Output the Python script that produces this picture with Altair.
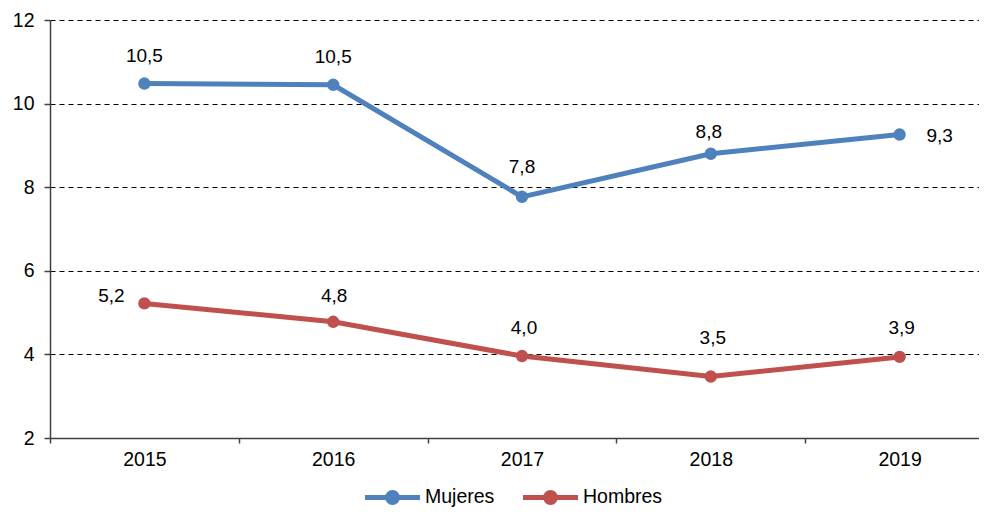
import altair as alt
import pandas as pd

years = ["2015", "2016", "2017", "2018", "2019"]
series_names = ["Mujeres", "Hombres"]
mujeres = [10.48, 10.45, 7.77, 8.80, 9.26]
hombres = [5.22, 4.78, 3.96, 3.47, 3.94]
mujeres_labels = ["10,5", "10,5", "7,8", "8,8", "9,3"]
hombres_labels = ["5,2", "4,8", "4,0", "3,5", "3,9"]
y_ticks = [2, 4, 6, 8, 10, 12]
colors = ["#4F81BD", "#C0504D"]

# label placement (pixel offsets from each point), kept apart from the values
mujeres_offsets = [(0, -28), (0, -28), (0, -30), (-2, -22), (40, 1)]
hombres_offsets = [(-33, -7), (1, -26), (2, -28), (2, -39), (2, -29)]

rows = []
for s, vals, labs in [("Mujeres", mujeres, mujeres_labels), ("Hombres", hombres, hombres_labels)]:
    for y, v, l in zip(years, vals, labs):
        rows.append({"year": y, "series": s, "value": v, "label": l})
df = pd.DataFrame(rows)

FONT = "Liberation Sans"
FS = 19.5

legend_path = (
    "M-1,0L1,0"
    "M0.182,0A0.182,0.182 0 1,1 -0.182,0A0.182,0.182 0 1,1 0.182,0"
    "M0.091,0A0.091,0.091 0 1,1 -0.091,0A0.091,0.091 0 1,1 0.091,0"
)

x_enc = alt.X(
    "year:O",
    bandPosition=0.5,
    scale=alt.Scale(type="band", paddingInner=0, paddingOuter=0, range=[0, 944]),
    axis=alt.Axis(
        title=None, labelAngle=0, tickBand="extent", grid=False,
        domainColor="#404040", domainWidth=1.5, tickColor="#404040",
        tickWidth=1.5, tickSize=5, labelPadding=7, labelFontSize=FS,
        labelFont=FONT, labelColor="black",
    ),
)
y_enc = alt.Y(
    "value:Q",
    scale=alt.Scale(domain=[2, 12], nice=False, zero=False),
    axis=alt.Axis(
        title=None, values=y_ticks, grid=True, gridColor="black",
        gridDash=[5, 4], gridWidth=1, domainColor="#404040", domainWidth=1.5,
        tickColor="#404040", tickWidth=1.5, tickSize=6, labelPadding=10,
        labelFontSize=FS, labelFont=FONT, labelColor="black",
    ),
)
color_scale = alt.Scale(domain=series_names, range=colors)

base = alt.Chart(df)
lines = base.mark_line(strokeWidth=5).encode(
    x=x_enc, y=y_enc,
    color=alt.Color(
        "series:N", scale=color_scale, sort=series_names,
        legend=alt.Legend(
            title=None, orient="none", direction="horizontal",
            legendX=312.5, legendY=447, padding=0,
            symbolType=legend_path, symbolSize=3025, symbolStrokeWidth=5,
            symbolOffset=0, labelOffset=2.5, columnPadding=18,
            labelFontSize=FS, labelFont=FONT, labelColor="black",
        ),
    ),
)
points = base.mark_point(filled=True, size=154, opacity=1).encode(
    x=x_enc, y=y_enc,
    color=alt.Color("series:N", scale=color_scale, legend=None),
)

layers = [lines, points]
for s, labs, offs in [("Mujeres", mujeres_labels, mujeres_offsets), ("Hombres", hombres_labels, hombres_offsets)]:
    for y, (dx, dy) in zip(years, offs):
        layers.append(
            base.transform_filter(
                (alt.datum.series == s) & (alt.datum.year == y)
            ).mark_text(
                dx=dx, dy=dy, fontSize=19, font=FONT, color="black", baseline="middle"
            ).encode(x=x_enc, y=y_enc, text="label:N")
        )

chart = alt.layer(*layers).properties(
    width=929, height=418,
    autosize=alt.AutoSizeParams(type="none"),
    padding={"top": 12, "left": 42, "right": 0, "bottom": 72},
).configure_view(stroke=None)

chart.save("out.html", embed_options={"renderer": "svg", "actions": False})
